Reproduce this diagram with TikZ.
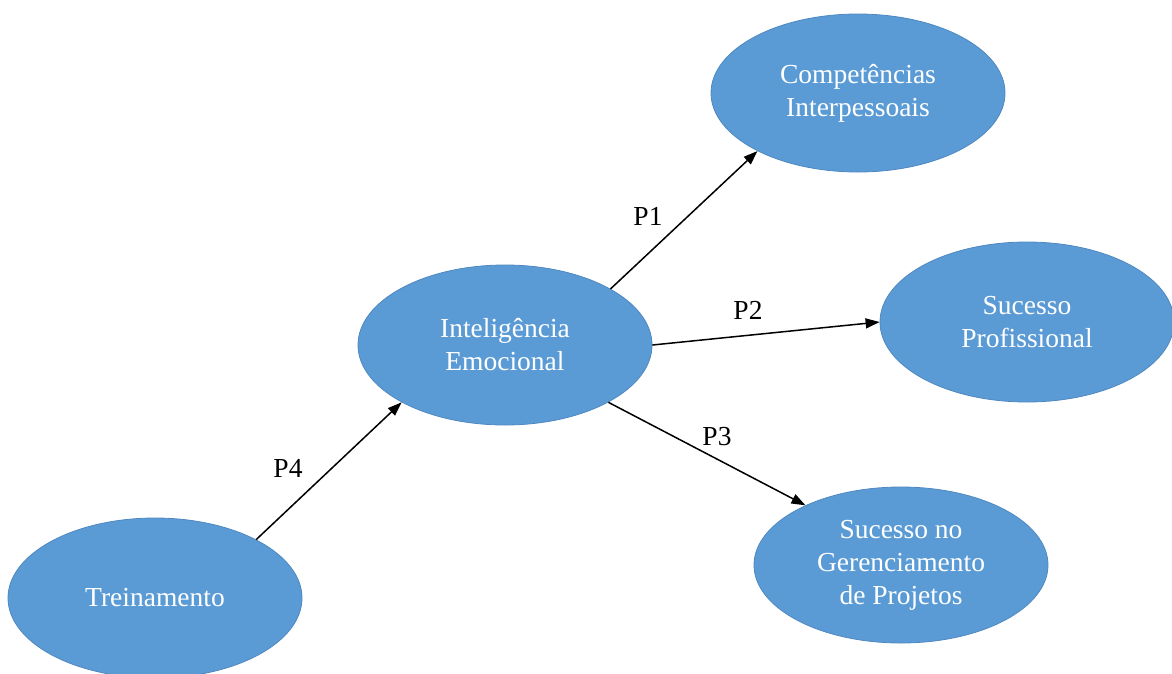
\documentclass[tikz,border=0pt]{standalone}
\usepackage{fontspec}
\setmainfont{Liberation Serif}
\usetikzlibrary{shapes.geometric,arrows.meta}
\definecolor{ellfill}{HTML}{5B9BD5}
\definecolor{elldraw}{HTML}{4F88C0}
\begin{document}
\begin{tikzpicture}[x=1pt,y=-1pt,
  ell/.style={ellipse,fill=ellfill,draw=elldraw,line width=0.8pt,minimum width=294pt,minimum height=158pt,inner sep=0pt,text=white,align=center,font=\fontsize{27.5}{33}\selectfont},
  lbl/.style={font=\fontsize{27.5}{33}\selectfont,inner sep=0pt},
  arr/.style={line width=1.5pt,-{Triangle[length=14pt,width=10pt]}}]
\useasboundingbox (0,0) rectangle (1172,673);
\node[ell] (CI) at (858,93) {Competências\\Interpessoais};
\node[ell,minimum height=160pt] (SP) at (1027,322) {Sucesso\\Profissional};
\node[ell,minimum height=160pt] (IE) at (505,345) {Inteligência\\Emocional};
\node[ell,minimum height=156pt] (SG) at (901,565) {Sucesso no\\Gerenciamento\\de Projetos};
\node[ell,minimum height=160pt] (TR) at (155,598) {Treinamento};
\draw[arr] (IE.28.8) -- (CI.210.5);
\draw[arr] (IE.0) -- (SP.180);
\draw[arr] (IE.-29.6) -- (SG.148.7);
\draw[arr] (TR.30) -- (IE.209.4);
\node[lbl] (p1) at (648,216) {P1};
\node[lbl] (p2) at (748,310) {P2};
\node[lbl] (p3) at (717,437) {P3};
\node[lbl] (p4) at (288,468) {P4};
\end{tikzpicture}
\end{document}
